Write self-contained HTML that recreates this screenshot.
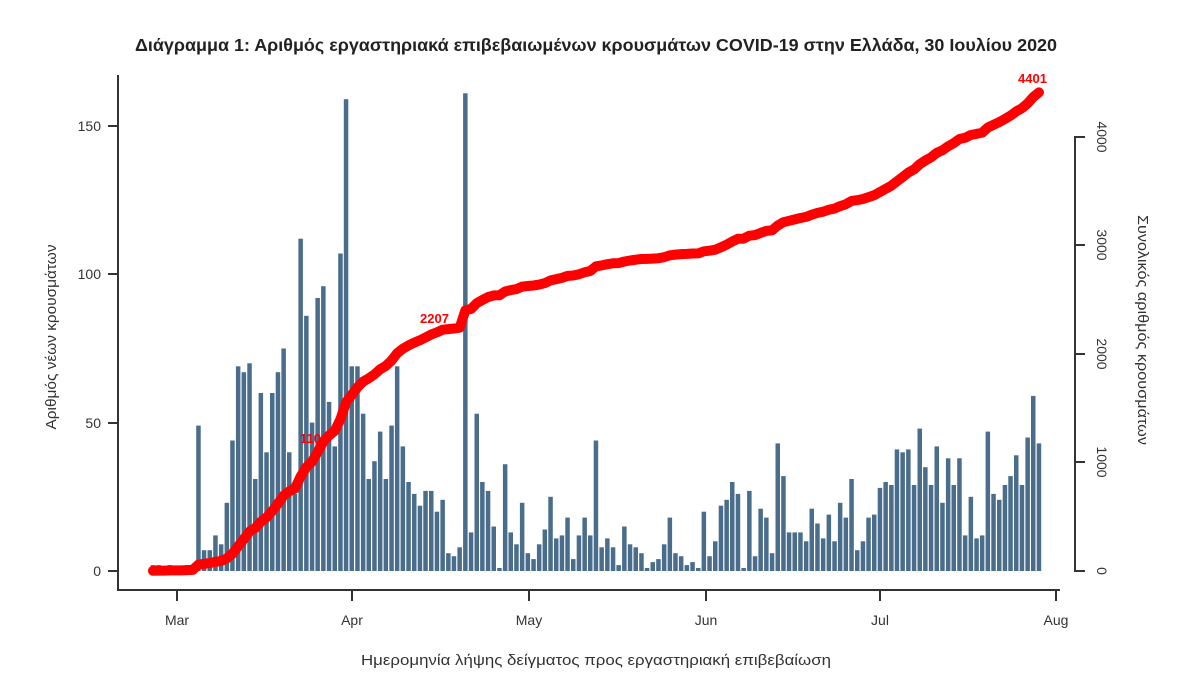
<!DOCTYPE html>
<html><head><meta charset="utf-8"><style>
body{margin:0;background:#fff;}
svg{display:block;font-family:"Liberation Sans","DejaVu Sans",sans-serif;}
</style></head><body>
<svg id="s" width="1200" height="698" viewBox="0 0 1200 698">
<text x="596" y="51" text-anchor="middle" font-size="17.5" font-weight="bold" fill="#222" textLength="922" lengthAdjust="spacingAndGlyphs">Διάγραμμα 1: Αριθμός εργαστηριακά επιβεβαιωμένων κρουσμάτων COVID-19 στην Ελλάδα, 30 Ιουλίου 2020</text>
<g id="bars" fill="#4a6d8c"></g>
<g stroke="#333" stroke-width="2" fill="none">
<path d="M118,75 V590 H1060"/>
<path d="M108,571H118 M108,423H118 M108,274H118 M108,126H118"/>
<path d="M177,590V601 M352,590V601 M529,590V601 M706,590V601 M880,590V601 M1056,590V601"/>
<path d="M1085,137H1075V571H1085 M1075,462H1085 M1075,354H1085 M1075,245H1085"/>
</g>
<g font-size="14" fill="#333" text-anchor="end">
<text x="101" y="576">0</text><text x="101" y="428">50</text><text x="101" y="279">100</text><text x="101" y="131">150</text>
</g>
<g font-size="14" fill="#333" text-anchor="middle">
<text x="177" y="625">Mar</text><text x="352" y="625">Apr</text><text x="529" y="625">May</text><text x="706" y="625">Jun</text><text x="880" y="625">Jul</text><text x="1056" y="625">Aug</text>
</g>
<g font-size="14" fill="#333" text-anchor="middle">
<text transform="translate(1097,571) rotate(90)">0</text>
<text transform="translate(1097,462) rotate(90)">1000</text>
<text transform="translate(1097,354) rotate(90)">2000</text>
<text transform="translate(1097,245) rotate(90)">3000</text>
<text transform="translate(1097,137) rotate(90)">4000</text>
</g>
<text transform="translate(56,337) rotate(-90)" font-size="15" fill="#333" text-anchor="middle" textLength="185" lengthAdjust="spacingAndGlyphs">Αριθμός νέων κρουσμάτων</text>
<text transform="translate(1138,330) rotate(90)" font-size="15" fill="#333" text-anchor="middle" textLength="230" lengthAdjust="spacingAndGlyphs">Συνολικός αριθμός κρουσμάτων</text>
<text x="596" y="665" font-size="15" fill="#333" text-anchor="middle" textLength="470" lengthAdjust="spacingAndGlyphs">Ημερομηνία λήψης δείγματος προς εργαστηριακή επιβεβαίωση</text>
<path id="cum" fill="none" stroke="#f00" stroke-width="10" stroke-linecap="round" stroke-linejoin="round"/>
<g font-size="13" font-weight="bold" fill="#f00">
<text x="1018" y="83">4401</text>
<text x="420" y="323">2207</text>
<text x="300" y="443">1101</text>
</g>
</svg>
<script>
var v=[2,2,0,2,0,0,2,2,49,7,7,12,9,23,44,69,67,70,31,60,40,60,67,75,40,26,112,86,50,92,96,57,42,107,159,69,69,53,31,37,47,31,49,69,42,30,26,22,27,27,20,24,6,5,8,161,13,53,30,27,15,1,36,13,9,23,6,4,9,14,25,11,12,18,4,12,18,12,44,8,11,8,2,15,9,8,6,1,3,4,9,18,6,5,2,3,1,20,5,10,22,24,30,26,1,27,5,21,18,6,43,32,13,13,13,10,21,16,11,19,10,23,18,31,7,10,18,19,28,30,29,41,40,41,29,48,35,29,42,23,38,29,38,12,25,11,12,47,26,24,29,32,39,29,45,59,43];
var N=v.length,x0=153,x1=1039,dx=(x1-x0)/(N-1),g=document.getElementById('bars'),ns='http://www.w3.org/2000/svg';
var tot=0;v.forEach(function(a){tot+=a;});
var c=0,d='';
v.forEach(function(a,i){var x=x0+i*dx,h=a*2.967;
var r=document.createElementNS(ns,'rect');r.setAttribute('x',(x-dx*0.4).toFixed(1));r.setAttribute('y',(571-h).toFixed(1));r.setAttribute('width',(dx*0.8).toFixed(1));r.setAttribute('height',h.toFixed(1));g.appendChild(r);
c+=a;var y=571-c/tot*4401*0.10875;d+=(i?'L':'M')+x.toFixed(1)+','+y.toFixed(1);});
document.getElementById('cum').setAttribute('d',d);
</script>
</body></html>
